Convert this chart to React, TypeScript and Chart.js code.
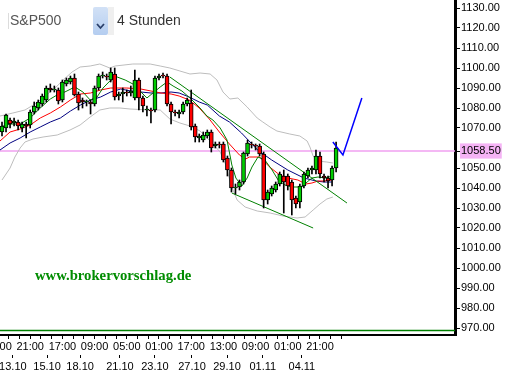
import React, { useEffect, useRef } from 'react';
import { Chart, registerables } from 'chart.js';

Chart.register(...registerables);

// ---- candle data (4h bars, S&P500) ----
const opens = [
  1068, 1070, 1074, 1072.5, 1073, 1070, 1072, 1071.5, 1078, 1080,
  1082, 1084, 1090, 1089, 1089, 1084, 1092, 1093, 1095, 1087,
  1084, 1083, 1083, 1082, 1090, 1096, 1096, 1094, 1097, 1086,
  1087, 1088, 1087.5, 1085, 1094, 1085, 1079, 1079, 1079, 1095,
  1096.5, 1096, 1082, 1078, 1077, 1078, 1082, 1082.5, 1071, 1065,
  1064, 1066, 1068, 1061, 1062, 1062, 1055, 1049, 1040, 1040.5,
  1043, 1057, 1062, 1061.5, 1061, 1057, 1034, 1037, 1039, 1042,
  1046, 1046, 1043, 1035, 1033, 1041, 1046, 1049, 1049, 1056,
  1046, 1045, 1044, 1050,
];
const highs = [
  1073, 1077, 1075, 1075, 1074, 1073, 1073, 1079, 1083, 1084,
  1087, 1091, 1092, 1091, 1090, 1094, 1095, 1096, 1097, 1088,
  1085, 1084, 1084, 1091, 1097, 1098, 1097, 1100, 1100, 1088,
  1090, 1089, 1091, 1099, 1095, 1086, 1081, 1080, 1096, 1097,
  1097.5, 1097, 1083, 1079, 1079, 1083, 1085, 1089, 1072, 1067,
  1068, 1069, 1069, 1063, 1063, 1063, 1056, 1050, 1042, 1044,
  1058, 1064, 1063, 1062, 1062, 1058, 1039, 1041, 1043, 1048,
  1049, 1047, 1044, 1036, 1042, 1048, 1050, 1051, 1059, 1058,
  1047, 1046, 1051, 1063,
];
const lows = [
  1066, 1068, 1070, 1071, 1069, 1068, 1065, 1070, 1077, 1079,
  1081, 1083, 1088, 1088, 1082, 1083, 1091, 1092, 1086, 1079,
  1080, 1081, 1077, 1081, 1089, 1095, 1094, 1093, 1084, 1084,
  1083, 1086, 1086, 1084, 1079, 1078, 1076, 1072.5, 1078, 1094,
  1095, 1081, 1072, 1076, 1075, 1077, 1081, 1069, 1063, 1063,
  1063, 1065, 1058, 1060, 1060, 1053, 1046, 1038, 1037, 1039,
  1042, 1056, 1060, 1059, 1056, 1030, 1032, 1036, 1038, 1041,
  1027.5, 1039, 1026.5, 1030, 1030, 1040, 1045, 1047, 1047, 1045,
  1043, 1040, 1041, 1048,
];
const closes = [
  1071, 1076.5, 1072, 1073.5, 1071, 1072, 1071, 1078, 1081, 1083,
  1086, 1090, 1089, 1089.5, 1083.5, 1093, 1094, 1095, 1086.5, 1082.5,
  1083, 1083.5, 1082, 1090, 1096, 1096.5, 1095.5, 1098, 1085.5, 1087,
  1088, 1087.5, 1088.5, 1094, 1085, 1081, 1079.5, 1078.5, 1095, 1096,
  1096, 1082, 1078, 1077.5, 1078, 1082, 1084, 1070.5, 1065.5, 1066,
  1066.5, 1068, 1060, 1062, 1061.5, 1054, 1049, 1040, 1040.5, 1043,
  1057.5, 1062.5, 1061.5, 1061, 1057, 1034, 1038, 1040, 1042, 1047,
  1043, 1041, 1034, 1032, 1041, 1047, 1049, 1050, 1056, 1047,
  1045, 1043.5, 1050, 1060,
];

// ---- indicator lines, read as [bar index, price] ----
const blueMA = [
  [-0.5, 1059], [2, 1062.5], [4.5, 1065], [7, 1068], [9.5, 1070.5], [12, 1073], [14.5, 1075],
  [17, 1078.5], [19.5, 1081.5], [22, 1084], [24.5, 1085.5], [27, 1088], [29.5, 1089.5],
  [32, 1088.5], [34.5, 1088], [37, 1087.5], [39.5, 1087.5], [42, 1088], [44, 1087.5],
  [46.5, 1085.5], [49, 1083], [51, 1081.5], [54, 1076], [56.5, 1073], [59.5, 1067.5],
  [63.5, 1059], [67, 1054], [71, 1049], [75, 1045], [78, 1043.5], [80, 1043], [82, 1043],
];
const redMA = [
  [-0.5, 1063.5], [2, 1068], [4.5, 1069.5], [7, 1071.5], [9.5, 1075], [12, 1077.5], [14.5, 1080.5],
  [17, 1084], [19.5, 1087], [22, 1087.5], [24.5, 1089], [27, 1090], [31, 1090], [34.5, 1089.5],
  [37, 1088.5], [39.5, 1087.5], [42, 1087], [44, 1086], [46.5, 1084], [49, 1080], [51.5, 1074.5],
  [54, 1068], [56.5, 1062], [59, 1056.5], [60.5, 1054.5], [61.5, 1055.5], [64, 1055.5],
  [66.5, 1050.5], [69, 1046.5], [71, 1045], [73.5, 1044], [75.5, 1042], [77, 1042.5],
  [78.5, 1043.5], [80, 1043.5], [82, 1044],
];
const greenMA = [
  [-0.5, 1070.5], [2, 1072], [4.5, 1072], [7, 1075], [9.5, 1080], [12, 1084.5], [14.5, 1087.5],
  [15.6, 1088], [18.1, 1090.5], [20.1, 1088], [21.9, 1084], [23.6, 1085.5], [25.1, 1090],
  [26.8, 1093.5], [28.6, 1095.5], [30.6, 1094], [33, 1091.5], [34.3, 1088.5], [36, 1085],
  [37.5, 1087.5], [39.3, 1090.5], [41, 1093], [42.5, 1091], [44.7, 1088.5], [46.7, 1085],
  [49.2, 1080], [50.9, 1076], [52.4, 1074], [54.2, 1070], [55.9, 1064], [57.1, 1051.5],
  [58.1, 1045], [59.6, 1041], [60.9, 1045], [62.1, 1050.5], [63.6, 1055.5], [65.3, 1054],
  [67.1, 1049], [68.6, 1044], [70.3, 1041.5], [72, 1040.5], [74.5, 1040.5], [75.8, 1043],
  [77, 1045], [78.5, 1045.5], [80.2, 1045], [82.2, 1046],
];
const bandUpper = [
  [-0.5, 1076], [2.7, 1077.5], [5.7, 1079], [8.2, 1082], [10.7, 1086], [13.2, 1090], [15.2, 1094],
  [17.4, 1098], [19.4, 1100.5], [21.9, 1101], [24.3, 1102], [26.8, 1100], [28.1, 1101],
  [32.5, 1102], [36.8, 1102], [39.3, 1101], [41.7, 1100], [44.2, 1098.5], [46.7, 1097],
  [49.2, 1097.5], [51.7, 1097], [53.4, 1094], [54.9, 1088], [56.6, 1084.5], [58.6, 1085],
  [60.9, 1080.5], [63.4, 1075], [64.8, 1073], [66.6, 1070.5], [68.3, 1068.5], [71.5, 1067],
  [74, 1066], [75.8, 1063.5], [76.5, 1060.5], [77.3, 1056], [78.3, 1053.5], [80.7, 1053],
  [82.2, 1052.5],
];
const bandLower = [
  [0, 1044], [2, 1050], [3.2, 1055.5], [4.5, 1060], [5.7, 1063], [7.7, 1064.5], [10.2, 1065.5],
  [13.7, 1066.5], [16.9, 1069], [19.4, 1071.5], [21.9, 1075.5], [24.3, 1079], [26.8, 1080],
  [29.3, 1080], [31.8, 1079.5], [36.8, 1079], [39.3, 1079], [41.7, 1074.5], [44.2, 1072.5],
  [46.7, 1071], [49.2, 1068.5], [51.7, 1063.5], [54.2, 1058], [55.6, 1051.5], [56.9, 1041.5],
  [58.4, 1034], [60.4, 1030.5], [63.4, 1028.5], [66.6, 1027.5], [69.8, 1026], [73.3, 1025],
  [75.3, 1025.5], [77.3, 1029], [79, 1032], [80.7, 1034.5], [82.2, 1035.5],
];
const projection = [[82.2, 1063], [84.7, 1056.5], [89.4, 1085]];
const upperTrend = [[41.7, 1095.5], [85.7, 1032.5]];
const lowerTrend = [[57.1, 1037.5], [77.3, 1020]];
const currentPrice = 1058.5;
const supportLevel = 968.7;

// ---- axis labels ----
const yTickValues = [970, 980, 990, 1000, 1010, 1020, 1030, 1040, 1050, 1058.5, 1070, 1080, 1090, 1100, 1110, 1120, 1130];
const timeLabels = ['01:00', '21:00', '17:00', '09:00', '05:00', '01:00', '17:00', '13:00', '09:00', '01:00', '21:00'];
const timeLabelBars = [-1, 7, 15, 23, 31, 39, 47, 55, 63, 71, 79];
const dateLabels = ['13.10', '15.10', '18.10', '21.10', '23.10', '27.10', '29.10', '01.11', '04.11'];
const dateLabelBars = [2.7, 11.2, 19.4, 29.3, 38, 47.2, 55.9, 64.8, 74.5];

const X_MIN = -0.5;
const X_MAX = 112.54;
const Y_MIN = 966.5;
const Y_MAX = 1134;
const FONT = '"Liberation Sans", Arial, sans-serif';

const pts = (arr: number[][]) => arr.map(([x, y]) => ({ x, y }));
const lookup = (labels: string[], bars: number[], v: number) => {
  const k = bars.findIndex((b) => Math.abs(b - v) < 1e-6);
  return k >= 0 ? labels[k] : '';
};
const noPad = (s: any) => {
  s.paddingLeft = 0;
  s.paddingRight = 0;
  s.paddingTop = 0;
  s.paddingBottom = 0;
};

export default function App() {
  const ref = useRef<HTMLCanvasElement>(null);

  useEffect(() => {
    const canvas = ref.current;
    if (!canvas) return;
    const idx = opens.map((_, i) => i);
    const bodyColors = idx.map((i) => (closes[i] >= opens[i] ? '#00cc00' : '#ff0000'));
    const line = (data: number[][], color: string, width: number, order: number) => ({
      type: 'line' as const,
      data: pts(data),
      borderColor: color,
      borderWidth: width,
      pointRadius: 0,
      tension: 0,
      fill: false,
      order,
    });

    const minorTicks: number[] = [];
    for (let k = -3; k <= 29; k++) minorTicks.push(7 + (k * 8) / 3);
    const timeTickValues = minorTicks.map((v) => {
      const near = timeLabelBars.find((b) => Math.abs(b - v) < 1e-6);
      return near !== undefined ? near : v;
    });

    const chart = new Chart(canvas, {
      type: 'bar',
      data: {
        datasets: [
          line([[X_MIN, currentPrice], [X_MAX, currentPrice]], '#f0a0f0', 1.5, 30),
          line([[X_MIN, supportLevel], [X_MAX, supportLevel]], '#008000', 1.5, 30),
          line(bandUpper, '#bdbdbd', 1, 25),
          line(bandLower, '#bdbdbd', 1, 25),
          line(blueMA, '#000080', 1, 24),
          line(redMA, '#ff0000', 1, 23),
          line(greenMA, '#008000', 1, 22),
          line(upperTrend, '#008000', 1, 21),
          line(lowerTrend, '#008000', 1, 21),
          {
            type: 'bar' as const,
            data: idx.map((i) => ({ x: i, y: [lows[i], highs[i]] })),
            backgroundColor: '#000000',
            borderWidth: 0,
            barThickness: 1,
            grouped: false,
            order: 12,
          } as any,
          {
            type: 'bar' as const,
            data: idx.map((i) => ({ x: i, y: [opens[i], closes[i]] })),
            backgroundColor: bodyColors,
            borderColor: '#000000',
            borderWidth: 1,
            borderSkipped: false,
            barThickness: 4,
            grouped: false,
            order: 10,
          } as any,
          line(projection, '#0000ff', 1.5, 1),
        ],
      },
      options: {
        responsive: false,
        animation: false,
        events: [],
        layout: { padding: 0 },
        plugins: { legend: { display: false }, tooltip: { enabled: false } },
        scales: {
          x: {
            type: 'linear',
            position: 'bottom',
            min: X_MIN,
            max: X_MAX,
            offset: false,
            weight: 0,
            afterBuildTicks: (s: any) => {
              s.ticks = timeTickValues.map((v) => ({ value: v }));
            },
            afterFit: (s: any) => {
              s.height = 20;
              noPad(s);
            },
            border: { display: true, color: '#000000', width: 2 },
            grid: { offset: false, drawOnChartArea: false, drawTicks: true, tickLength: 4, color: '#000000' },
            ticks: {
              autoSkip: false,
              maxRotation: 0,
              minRotation: 0,
              padding: 1,
              color: '#000000',
              font: { family: FONT, size: 11 },
              callback: (v: any) => lookup(timeLabels, timeLabelBars, Number(v)),
            },
          },
          x2: {
            type: 'linear',
            position: 'bottom',
            min: X_MIN,
            max: X_MAX,
            offset: false,
            weight: 1,
            afterBuildTicks: (s: any) => {
              s.ticks = dateLabelBars.map((v) => ({ value: v }));
            },
            afterFit: (s: any) => {
              s.height = 21;
              noPad(s);
            },
            border: { display: false },
            grid: { offset: false, drawOnChartArea: false, drawTicks: true, tickLength: 3, color: '#000000' },
            ticks: {
              autoSkip: false,
              maxRotation: 0,
              minRotation: 0,
              padding: 2,
              color: '#000000',
              font: { family: FONT, size: 11 },
              callback: (v: any) => lookup(dateLabels, dateLabelBars, Number(v)),
            },
          },
          y: {
            type: 'linear',
            position: 'right',
            min: Y_MIN,
            max: Y_MAX,
            beginAtZero: false,
            afterBuildTicks: (s: any) => {
              s.ticks = yTickValues.map((v) => ({ value: v }));
            },
            afterFit: (s: any) => {
              s.width = 50;
              noPad(s);
            },
            border: { display: true, color: '#000000', width: 3 },
            grid: { drawOnChartArea: false, drawTicks: true, tickLength: 5, color: '#000000' },
            ticks: {
              autoSkip: false,
              padding: 1,
              color: '#000000',
              font: { family: FONT, size: 11 },
              callback: (v: any) => Number(v).toFixed(2),
              showLabelBackdrop: (c: any) => c.tick && c.tick.value === currentPrice,
              backdropColor: '#f5b3f5',
              backdropPadding: { x: 1, y: 1 },
            },
          },
        },
      } as any,
    });
    return () => chart.destroy();
  }, []);

  return (
    <div style={{ position: 'absolute', left: 0, top: 0, width: 505, height: 376, background: '#ffffff', overflow: 'hidden' }}>
      <canvas ref={ref} width={505} height={376} style={{ position: 'absolute', left: 0, top: 0, width: 505, height: 376 }} />
      <div style={{ position: 'absolute', left: 8, top: 13, width: 1, height: 16, background: '#dcdcdc' }} />
      <div style={{ position: 'absolute', left: 10, top: 11, font: `14px ${FONT}`, color: '#555555', lineHeight: '18px' }}>S&amp;P500</div>
      <div style={{ position: 'absolute', left: 93, top: 7, width: 15, height: 28, background: 'linear-gradient(#d2e1f6, #b4cdf0)', borderRadius: 2 }}>
        <svg width="15" height="28" style={{ position: 'absolute', left: 0, top: 0 }}>
          <polyline points="4,17 7.5,21 11,17" fill="none" stroke="#2a3f6a" strokeWidth="1.8" />
        </svg>
      </div>
      <div style={{ position: 'absolute', left: 108, top: 7, width: 6, height: 28, background: '#efefef' }} />
      <div style={{ position: 'absolute', left: 117, top: 11, font: `14px ${FONT}`, color: '#333333', lineHeight: '18px' }}>4 Stunden</div>
      <div style={{ position: 'absolute', left: 35, top: 266, font: `bold 14.7px "Liberation Serif", "Times New Roman", serif`, color: '#008c00', lineHeight: '18px' }}>
        www.brokervorschlag.de
      </div>
    </div>
  );
}
